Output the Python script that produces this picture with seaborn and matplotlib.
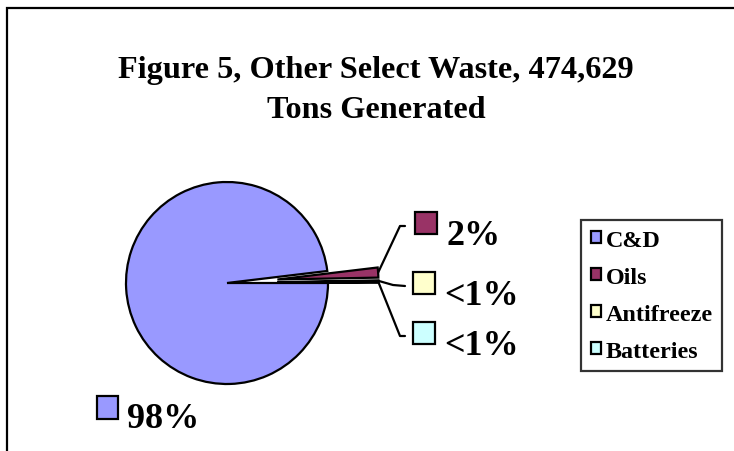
import matplotlib
matplotlib.use('Agg')
import matplotlib.pyplot as plt
import seaborn as sns
import numpy as np
from matplotlib.patches import Rectangle

# data
categories = ['C&D', 'Oils', 'Antifreeze', 'Batteries']
shares = [98.1, 1.6, 0.15, 0.15]
pct_labels = ['98%', '2%', '<1%', '<1%']
colors = ['#9999FF', '#993366', '#FFFFCC', '#CCFFFF']
explode = [0, 0.5, 0.5, 0.5]
title = 'Figure 5, Other Select Waste, 474,629\nTons Generated'

sns.set_theme(style='white')
plt.rcParams['font.family'] = ['Liberation Serif', 'DejaVu Serif']
plt.rcParams['font.weight'] = 'bold'
plt.rcParams['text.color'] = 'black'

W, H = 734, 452
fig = plt.figure(figsize=(W / 100, H / 100), dpi=100)
ax = fig.add_axes([0, 0, 1, 1])

# pie centre / radius in pixels, everything else in radius units
cx, cy, R = 227, 284, 101
def px(x, y):
    return (x - cx) / R, (cy - y) / R

wedges, _ = ax.pie(shares, colors=sns.color_palette(colors), explode=explode,
                   startangle=0, counterclock=False, radius=1, center=(0, 0),
                   wedgeprops=dict(edgecolor='black', linewidth=1.6))
ax.set_aspect('equal')
ax.set_xlim(-cx / R, (W - cx) / R)
ax.set_ylim(-(H - cy) / R, cy / R)
ax.axis('off')

# labels with leader lines: (elbow, end, square left/top, text x/baseline)
label_pos = {
    1: ((400, 227), (405, 227), (415, 213), (446, 245)),
    2: ((393, 286), (405, 287), (413, 273), (444, 305)),
    3: ((400, 337), (405, 337), (413, 323), (444, 355)),
}
for i, (elbow, end, sq, tx) in label_pos.items():
    w = wedges[i]
    mid = np.deg2rad((w.theta1 + w.theta2) / 2)
    tip = (w.center[0] + w.r * np.cos(mid), w.center[1] + w.r * np.sin(mid))
    e1, e2 = px(*elbow), px(*end)
    ax.plot([tip[0], e1[0], e2[0]], [tip[1], e1[1], e2[1]], color='black', lw=1.6)
    x0, y0 = px(sq[0], sq[1] + 22)
    ax.add_patch(Rectangle((x0, y0), 22 / R, 22 / R, facecolor=colors[i],
                           edgecolor='black', lw=1.6))
    ax.text(*px(*tx), pct_labels[i], fontsize=26, fontweight='bold',
            ha='left', va='baseline', color='black')

# 98% label
x0, y0 = px(97, 420)
ax.add_patch(Rectangle((x0, y0), 21 / R, 23 / R, facecolor=colors[0],
                       edgecolor='black', lw=1.6))
ax.text(*px(127, 428), pct_labels[0], fontsize=26, fontweight='bold',
        ha='left', va='baseline', color='black')

# multi-line text: baseline anchor sits on the last line
fig.text(376 / W, 1 - 118 / H, title, ha='center', va='baseline', fontsize=23.2,
         fontweight='bold', linespacing=1.48, color='black')

leg = fig.legend(wedges, categories, loc='upper left',
                 bbox_to_anchor=(581 / W, 1 - 221 / H), borderaxespad=0,
                 prop={'weight': 'bold', 'size': 17.4},
                 frameon=True, fancybox=False, handlelength=0.42,
                 handleheight=0.42, handletextpad=0.2, labelspacing=0.66,
                 borderpad=0.4)
leg.get_frame().set_edgecolor('black')
leg.get_frame().set_linewidth(1.6)
for t in leg.get_texts():
    t.set_color('black')

# chart area border (right and bottom run off the picture)
fig.patches.append(Rectangle((7 / W, -0.1), 1.2, 1.1 - 9 / H, fill=False,
                             edgecolor='black', lw=1.6,
                             transform=fig.transFigure, figure=fig))

fig.savefig('out.png', dpi=100)
